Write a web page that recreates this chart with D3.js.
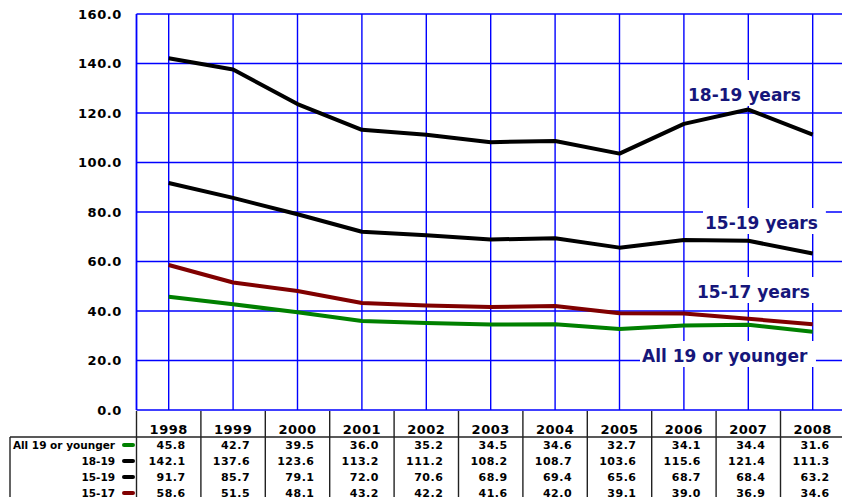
<!DOCTYPE html>
<html>
<head>
<meta charset="utf-8">
<script src="https://cdn.jsdelivr.net/npm/d3@7"></script>
<style>
  html, body { margin: 0; padding: 0; background: #fff; }
  svg { display: block; font-family: "DejaVu Sans", Verdana, sans-serif; }
</style>
</head>
<body>
<svg id="chart" width="842" height="497"></svg>
<script>
const years = ["1998","1999","2000","2001","2002","2003","2004","2005","2006","2007","2008"];
const all19 = [45.8, 42.7, 39.5, 36.0, 35.2, 34.5, 34.6, 32.7, 34.1, 34.4, 31.6];
const age1819 = [142.1, 137.6, 123.6, 113.2, 111.2, 108.2, 108.7, 103.6, 115.6, 121.4, 111.3];
const age1519 = [91.7, 85.7, 79.1, 72.0, 70.6, 68.9, 69.4, 65.6, 68.7, 68.4, 63.2];
const age1517 = [58.6, 51.5, 48.1, 43.2, 42.2, 41.6, 42.0, 39.1, 39.0, 36.9, 34.6];
const seriesNames = ["All 19 or younger", "18-19", "15-19", "15-17"];
const seriesColors = ["#008000", "#000000", "#000000", "#800000"];
const yTicks = [0, 20, 40, 60, 80, 100, 120, 140, 160];
const lineLabels = ["18-19 years", "15-19 years", "15-17 years", "All 19 or younger"];

const seriesData = [all19, age1819, age1519, age1517];

const svg = d3.select("#chart");
const x0 = 136.5, step = 64.4;
const x = d3.scaleBand().domain(years).range([x0, x0 + step * years.length]).padding(0);
const y = d3.scaleLinear().domain([0, 160]).range([410, 14]);
const cx = d => x(d) + x.bandwidth() / 2;

const grid = "#0000ff";
// horizontal gridlines
svg.append("g").selectAll("line").data(yTicks).join("line")
  .attr("x1", x0).attr("x2", 842)
  .attr("y1", d => y(d)).attr("y2", d => y(d))
  .attr("stroke", grid).attr("stroke-width", 1.6);
// vertical gridlines
svg.append("g").selectAll("line").data(years).join("line")
  .attr("x1", d => cx(d)).attr("x2", d => cx(d))
  .attr("y1", y(160)).attr("y2", y(0))
  .attr("stroke", grid).attr("stroke-width", 1.4);
// left border
svg.append("line").attr("x1", x0).attr("x2", x0).attr("y1", y(160)).attr("y2", y(0))
  .attr("stroke", grid).attr("stroke-width", 1.8);

// y tick labels
svg.append("g").selectAll("text").data(yTicks).join("text")
  .attr("x", 122).attr("y", d => y(d)).attr("dy", "0.36em")
  .attr("text-anchor", "end").attr("font-size", 13).attr("font-weight", "bold")
  .attr("letter-spacing", 0.6)
  .attr("fill", "#000").text(d => d.toFixed(1));

// labels with white boxes
const labelPos = [
  {v: 0, base: 101, x1: 688},
  {v: 1, base: 229, x1: 705},
  {v: 2, base: 298, x1: 697},
  {v: 3, base: 362, x1: 642}
];
const lg = svg.append("g");
labelPos.forEach(p => {
  const t = lg.append("text")
    .attr("x", p.x1).attr("y", p.base)
    .attr("font-size", 17).attr("font-weight", "bold").attr("fill", "#16167a")
    .text(lineLabels[p.v]);
  const bb = t.node().getBBox();
  lg.insert("rect", "text")
    .attr("x", bb.x - 2).attr("y", p.base - 21)
    .attr("width", bb.width + 10).attr("height", 26)
    .attr("fill", "#fff");
});

// lines
const lineGen = d3.line().x((d, i) => cx(years[i])).y(d => y(d));
svg.append("g").selectAll("path").data(seriesData).join("path")
  .attr("d", d => lineGen(d))
  .attr("fill", "none")
  .attr("stroke", (d, i) => seriesColors[i])
  .attr("stroke-width", 4)
  .attr("stroke-linejoin", "round");

// table
const tbl = svg.append("g");
const tableBorder = "#222";
tbl.append("line").attr("x1", 10).attr("x2", 842).attr("y1", 437).attr("y2", 437)
  .attr("stroke", tableBorder).attr("stroke-width", 1.4);
tbl.append("line").attr("x1", 10).attr("x2", 10).attr("y1", 437).attr("y2", 497)
  .attr("stroke", tableBorder).attr("stroke-width", 1.4);
const bounds = years.map(d => x(d));
tbl.selectAll("line.div").data(bounds).join("line").attr("class", "div")
  .attr("x1", d => d).attr("x2", d => d).attr("y1", 411).attr("y2", 497)
  .attr("stroke", tableBorder).attr("stroke-width", 1.4);
tbl.selectAll("text.yr").data(years).join("text").attr("class", "yr")
  .attr("x", d => cx(d)).attr("y", 434)
  .attr("text-anchor", "middle").attr("font-size", 13).attr("font-weight", "bold")
  .attr("letter-spacing", 0.5)
  .text(d => d);
seriesData.forEach((vals, r) => {
  const rc = 445 + r * 16;
  tbl.append("text").attr("x", 115).attr("y", rc).attr("dy", "0.36em")
    .attr("text-anchor", "end").attr("font-size", 10.5).attr("font-weight", "bold")
    .text(seriesNames[r]);
  tbl.append("line").attr("x1", 124).attr("x2", 133).attr("y1", rc).attr("y2", rc)
    .attr("stroke", seriesColors[r]).attr("stroke-width", 4).attr("stroke-linecap", "round");
  tbl.selectAll("text.v" + r).data(vals).join("text").attr("class", "v" + r)
    .attr("x", (d, i) => cx(years[i]) + 17).attr("y", rc).attr("dy", "0.36em")
    .attr("text-anchor", "end").attr("font-size", 11).attr("font-weight", "bold")
    .attr("letter-spacing", 0.5)
    .text(d => d.toFixed(1));
});
</script>
</body>
</html>
